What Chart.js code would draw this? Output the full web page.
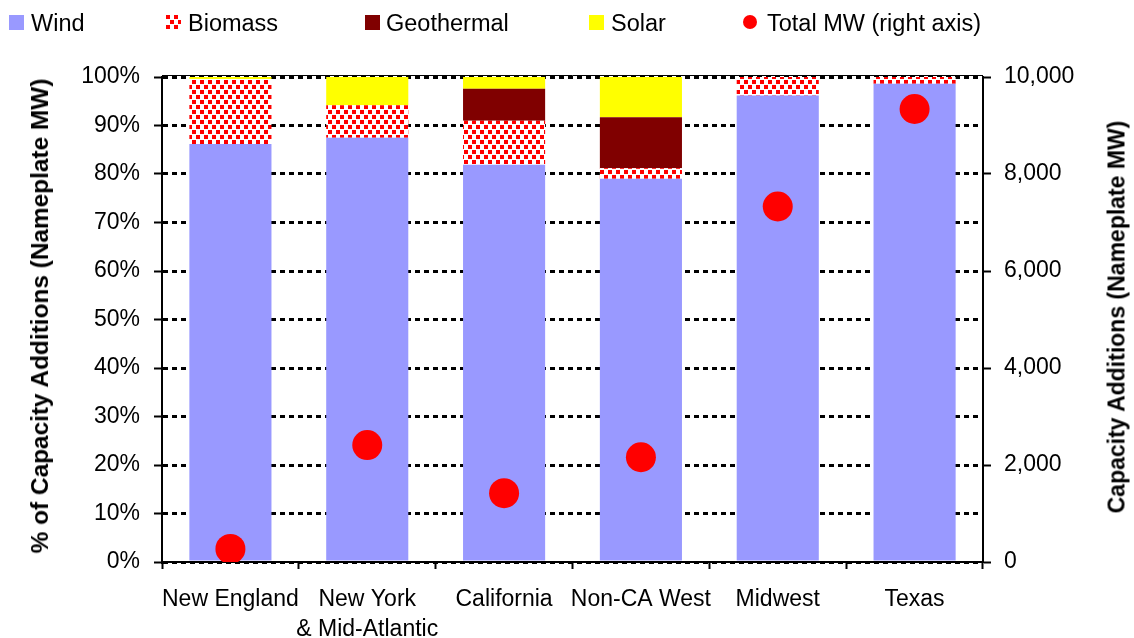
<!DOCTYPE html>
<html>
<head>
<meta charset="utf-8">
<script src="https://cdn.jsdelivr.net/npm/chart.js"></script>
<style>
  body { margin: 0; background: #fff; font-family: 'Liberation Sans', Arial, sans-serif; }
  #wrap { position: relative; width: 1134px; height: 638px; }
  .leg { position: absolute; top: 11px; font-size: 23.5px; line-height: 24px; color: #000; white-space: nowrap; }
  .sw { position: absolute; top: 15px; width: 15px; height: 15px; }
  .ttl { position: absolute; font-weight: bold; font-size: 23px; white-space: nowrap; color: #000;
         transform: translate(-50%, -50%) rotate(-90deg); }
</style>
</head>
<body>
<div id="wrap">
  <canvas id="myChart" width="1134" height="638"></canvas>

  <div class="sw" style="left:9px;background:#9999ff;"></div>
  <div class="leg" style="left:31px;">Wind</div>
  <canvas class="sw" id="bioIcon" width="15" height="15" style="left:166px;"></canvas>
  <div class="leg" style="left:188px;">Biomass</div>
  <div class="sw" style="left:365px;background:#800000;"></div>
  <div class="leg" style="left:386px;">Geothermal</div>
  <div class="sw" style="left:589px;background:#ffff00;"></div>
  <div class="leg" style="left:611px;">Solar</div>
  <div class="sw" style="left:743px;top:15px;width:14px;height:14px;border-radius:50%;background:#ff0000;"></div>
  <div class="leg" style="left:767px;">Total MW (right axis)</div>

  <div class="ttl" style="left:40px;top:316px;font-size:24.4px;">% of Capacity Additions (Nameplate MW)</div>
  <div class="ttl" style="left:1117px;top:317px;">Capacity Additions (Nameplate MW)</div>
</div>

<script>
const regions = ['New England', ['New York', '& Mid-Atlantic'], 'California', 'Non-CA West', 'Midwest', 'Texas'];
const wind       = [86.2, 87.5, 81.9, 79.0, 96.2, 98.6];
const biomass    = [13.4, 6.7, 9.1, 2.2, 3.8, 1.4];
const geothermal = [0, 0, 6.6, 10.5, 0, 0];
const solar      = [0.4, 5.8, 2.4, 8.3, 0, 0];
const totalMW    = [270, 2410, 1420, 2160, 7330, 9340];

// red confetti pattern for biomass
function makeBiomassPattern(ctx) {
  const c = document.createElement('canvas');
  c.width = 8; c.height = 10;
  const p = c.getContext('2d');
  p.fillStyle = '#fff';
  p.fillRect(0, 0, 8, 10);
  p.fillStyle = '#ff0000';
  p.fillRect(0, 0, 4, 4);
  p.fillRect(4, 5, 4, 4);
  return ctx.createPattern(c, 'repeat');
}

const icon = document.getElementById('bioIcon').getContext('2d');
icon.fillStyle = makeBiomassPattern(icon);
icon.fillRect(0, 0, 15, 15);

const canvas = document.getElementById('myChart');
const biomassFill = makeBiomassPattern(canvas.getContext('2d'));

const tickFont = { family: "'Liberation Sans', Arial, sans-serif", size: 23 };

const topLine = {
  id: 'topLine',
  afterDraw(chart) {
    const { ctx, chartArea } = chart;
    ctx.save();
    ctx.strokeStyle = '#000';
    ctx.lineWidth = 1;
    ctx.beginPath();
    ctx.moveTo(chartArea.left, chartArea.top - 1.5);
    ctx.lineTo(chartArea.right, chartArea.top - 1.5);
    ctx.stroke();
    ctx.restore();
  }
};

const data = {
  labels: regions,
  datasets: [
    { type: 'bar', label: 'Wind', data: wind, backgroundColor: '#9999ff', order: 1 },
    { type: 'bar', label: 'Biomass', data: biomass, backgroundColor: biomassFill, order: 1 },
    { type: 'bar', label: 'Geothermal', data: geothermal, backgroundColor: '#800000', order: 1 },
    { type: 'bar', label: 'Solar', data: solar, backgroundColor: '#ffff00', order: 1 },
    { type: 'line', label: 'Total MW (right axis)', data: totalMW, yAxisID: 'y2', showLine: false,
      pointRadius: 15, pointHoverRadius: 15, pointBackgroundColor: '#ff0000', pointBorderWidth: 0,
      borderColor: '#ff0000', order: 0 }
  ]
};

const config = {
  type: 'bar',
  data: data,
  options: {
    responsive: false,
    animation: false,
    layout: { padding: { top: 77, left: 0, right: 0, bottom: 0 } },
    datasets: { bar: { categoryPercentage: 1, barPercentage: 0.6, borderWidth: 0 } },
    plugins: { legend: { display: false }, tooltip: { enabled: false } },
    scales: {
      x: {
        stacked: true,
        afterFit(s) { s.height = 76; },
        grid: { drawOnChartArea: false, tickLength: 7, tickColor: '#000', tickWidth: 2, offset: true },
        border: { color: '#000', width: 2 },
        ticks: { color: '#000', font: { ...tickFont, lineHeight: 1.28 }, padding: 16, maxRotation: 0, autoSkip: false }
      },
      y: {
        stacked: true,
        min: 0, max: 100,
        afterFit(s) { s.width = 162; },
        grid: { color: '#000', lineWidth: 3, tickLength: 8, tickColor: '#000', tickWidth: 2, tickBorderDash: [] },
        border: { color: '#000', width: 2, dash: [5, 4] },
        ticks: { stepSize: 10, color: '#000', font: tickFont, padding: 14, callback: v => v + '%' }
      },
      y2: {
        position: 'right',
        min: 0, max: 10000,
        afterFit(s) { s.width = 151; },
        grid: { drawOnChartArea: false, tickLength: 8, tickColor: '#000', tickWidth: 2 },
        border: { color: '#000', width: 2 },
        ticks: { stepSize: 2000, color: '#000', font: tickFont, padding: 13,
                 callback: v => v.toLocaleString('en-US') }
      }
    }
  },
  plugins: [topLine]
};

const myChart = new Chart(canvas, config);
</script>
</body>
</html>
